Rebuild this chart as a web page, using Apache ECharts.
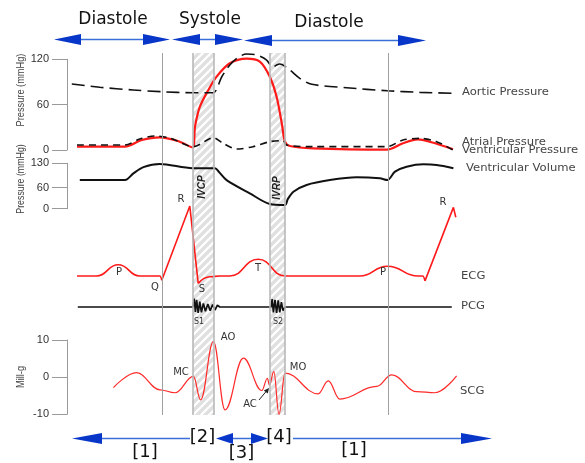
<!DOCTYPE html>
<html>
<head>
<meta charset="utf-8">
<script src="https://cdn.jsdelivr.net/npm/echarts@6/dist/echarts.min.js"></script>
<style>html,body{margin:0;padding:0;background:#fff}#main{width:585px;height:463px}</style>
</head>
<body>
<div id="main"></div>
<script>
// time in ms across the cycle, pressures in mmHg, volume in ml
var eventTimes = [237.5, 802.5];
var bandEdges = [315, 367.5, 507.5, 545];
var bandTimes = [[315, 367.5], [507.5, 545]];

var pressureTicks = [0, 60, 120];
var volumeTicks = [0, 60, 130];
var scgTicks = [-10, 0, 10];

var aorticPressure = [[12,87.3],[82,83],[165,79.4],[237,77.1],[315,75.8],[365,75.8],[387,96.9],[407,112.4],[428,122.6],[449,127],[474,125.7],[499,119],[514,109.4],[524,112.4],[532,113.8],[557,105.8],[582,94.8],[612,86.9],[699,82.4],[801,78.4],[882,76.3],[966,75]];
var atrialPressure = [[25,6.6],[145,6.6],[182,14.5],[220,18.5],[257,15.9],[316,4.4],[366,16.3],[390,8.9],[424,1.3],[465,4.4],[507,11],[540,12.3],[549,6.6],[615,4.4],[800,4.4],[840,13.2],[882,15.4],[924,11],[965,0]];
var ventricularPressure = [[25,4.4],[145,4.4],[187,13.2],[232,16.8],[277,11.9],[314,3.5],[320,30.8],[332,57],[353,79],[374,97],[407,114.7],[449,121],[482,117],[507,97],[524,70.5],[537,35],[545,11],[557,5.3],[615,2.2],[800,0.5],[840,9],[877,14],[922,8.6],[965,1]];
var ventricularVolume = [[32,82],[145,82],[166,101],[191,119],[232,128],[314,116],[370,116],[380,105],[399,82],[457,44],[507,13.5],[545,10.6],[552,27.5],[566,48.7],[599,68],[657,82],[724,90],[782,87],[801,82],[820,106],[849,120],[891,127],[924,125],[966,116]];

// ECG in mV, smooth waves and straight QRS parts
var ecgWaveA = [[25,0],[74,0],[128,0.16],[182,0],[232,0],[237,-0.06]];
var ecgQrs1 = [[237,-0.06],[307,1.0],[328,-0.105]];
var ecgWaveB = [[328,-0.105],[357,-0.01],[382,0],[407,0],[478,0.24],[545,0],[732,0],[801,0.14],[878,0],[889,0],[895,-0.07]];
var ecgQrs2 = [[895,-0.07],[966,0.98],[972,0.84]];

var pcgTrace = [[27,0],[315,0],[318,1.4],[321,-0.8],[324,1.2],[328,-1.0],[332,0.9],[336,-0.9],[341,0.6],[346,-0.7],[352,0.5],[358,-0.6],[364,0.4],[370,-0.5],[376,0.3],[382,0],[510,0],[513,1.3],[516,-0.9],[520,1.2],[524,-1.0],[528,1.1],[532,-0.9],[536,0.8],[540,-0.6],[545,0],[962,0]];

var scgTrace = [[116,-2.8],[174,1.2],[232,-3.4],[270,-4.2],[316,0.2],[334,-6.1],[366,9.6],[395,-8.8],[441,5.1],[487,-3.6],[501,-0.3],[506,-2.1],[517,1.5],[530,-10],[545,1.1],[628,-4.5],[653,-1],[682,-5.9],[774,-2.5],[812,0.6],[874,-3.9],[920,-4.2],[974,0.35]];

var chart = echarts.init(document.getElementById('main'));

function hatch() {
  var c = document.createElement('canvas');
  c.width = 8; c.height = 8;
  var g = c.getContext('2d');
  g.fillStyle = '#e0e0e0';
  g.fillRect(0, 0, 8, 8);
  g.strokeStyle = '#ffffff';
  g.lineWidth = 2.2;
  g.beginPath();
  g.moveTo(-4, 4); g.lineTo(4, -4);
  g.moveTo(-1, 9); g.lineTo(9, -1);
  g.moveTo(4, 12); g.lineTo(12, 4);
  g.stroke();
  return c;
}

function yAx(grid, min, max, ticks) {
  return {
    type: 'value', gridIndex: grid, min: min, max: max,
    axisLine: {show: true, lineStyle: {color: '#9a9a9a', width: 1}},
    axisTick: {show: true, length: 15, lineStyle: {color: '#9a9a9a'}, customValues: ticks},
    axisLabel: {show: true, margin: 18, color: '#333', fontSize: 11, fontFamily: 'Liberation Sans', customValues: ticks},
    splitLine: {show: false}
  };
}
function hiddenY(grid, min, max) {
  return {type: 'value', gridIndex: grid, min: min, max: max, show: false};
}
function line(name, grid, data, color, width, dash, smooth, mono) {
  return {
    name: name, type: 'line', xAxisIndex: grid, yAxisIndex: grid, data: data,
    symbol: 'none', clip: false, smooth: smooth, smoothMonotone: mono || null, z: 3,
    lineStyle: {color: color, width: width, type: dash || 'solid'}
  };
}

function label(text, x, y, font, fill, align, rot, sx) {
  return {
    type: 'text', x: x, y: y, rotation: rot || 0, scaleX: sx || 1, z: 10,
    style: {text: text, font: font, fill: fill || '#333',
      textAlign: align || 'center', textVerticalAlign: 'middle',
      align: align || 'center', verticalAlign: 'middle'}
  };
}
function arrow(x1, x2, y, head, left, right) {
  var els = [];
  var a = left ? x1 + head - 2 : x1, b = right ? x2 - head + 2 : x2;
  els.push({type: 'line', z: 10, shape: {x1: a, y1: y, x2: b, y2: y}, style: {stroke: '#3a6fd8', lineWidth: 1.5}});
  if (left) els.push({type: 'polygon', z: 10, shape: {points: [[x1, y], [x1 + head, y - 5.5], [x1 + head, y + 5.5]]}, style: {fill: '#0836c8'}});
  if (right) els.push({type: 'polygon', z: 10, shape: {points: [[x2, y], [x2 - head, y - 5.5], [x2 - head, y + 5.5]]}, style: {fill: '#0836c8'}});
  return els;
}

var titleFont = '17px "DejaVu Sans"';
var bracketFont = '18px "DejaVu Sans"';
var sideFont = '10px "DejaVu Sans"';
var sideScale = 1.16;
var waveFont = '10px "DejaVu Sans"';
var axisNameFont = '11px "Liberation Sans"';

var graphics = [].concat(
  arrow(54, 170, 39.5, 27, true, true),
  arrow(172, 243, 39.5, 28, true, true),
  arrow(244, 426, 40.5, 28, true, true),
  arrow(72, 190, 438.5, 30, true, false),
  arrow(216, 268, 438.5, 17, true, true),
  arrow(293, 492, 438.5, 31, false, true),
  [
    label('Diastole', 113, 20, titleFont, '#111'),
    label('Systole', 210, 20, titleFont, '#111'),
    label('Diastole', 329, 23, titleFont, '#111'),
    label('[1]', 145, 452, bracketFont, '#111'),
    label('[2]', 202.5, 437, bracketFont, '#111'),
    label('[3]', 241.5, 453, bracketFont, '#111'),
    label('[4]', 279, 437, bracketFont, '#111'),
    label('[1]', 354, 450, bracketFont, '#111'),
    label('Aortic Pressure', 462, 92, sideFont, '#444', 'left', 0, sideScale),
    label('Atrial Pressure', 462, 142, sideFont, '#444', 'left', 0, sideScale),
    label('Ventricular Pressure', 462, 150, sideFont, '#444', 'left', 0, sideScale),
    label('Ventricular Volume', 466, 168, sideFont, '#444', 'left', 0, sideScale),
    label('ECG', 461, 276, sideFont, '#444', 'left', 0, sideScale),
    label('PCG', 461, 306, sideFont, '#444', 'left', 0, sideScale),
    label('SCG', 460, 391, sideFont, '#444', 'left', 0, sideScale),
    label('R', 181, 199, waveFont), label('P', 119, 272, waveFont),
    label('Q', 155, 287, waveFont), label('S', 202, 289, waveFont),
    label('T', 258, 268, waveFont), label('P', 383, 272, waveFont),
    label('R', 443, 202, waveFont),
    label('S1', 199, 322, '8px "DejaVu Sans"'), label('S2', 278, 322, '8px "DejaVu Sans"'),
    label('MC', 181, 372, waveFont), label('AO', 228, 337, waveFont),
    label('AC', 250, 404, waveFont), label('MO', 298, 367, waveFont),
    label('IVCP', 202, 187, 'italic bold 10px "Liberation Sans"', '#222', 'center', Math.PI / 2),
    label('IVRP', 277.5, 188, 'italic bold 10px "Liberation Sans"', '#222', 'center', Math.PI / 2),
    label('Pressure (mmHg)', 21, 90, axisNameFont, '#444', 'center', Math.PI / 2, 0.84),
    label('Pressure (mmHg)', 21, 179, axisNameFont, '#444', 'center', Math.PI / 2, 0.8),
    label('Mill-g', 21, 377, axisNameFont, '#444', 'center', Math.PI / 2, 0.84),
    {type: 'line', z: 10, shape: {x1: 259, y1: 400, x2: 266.5, y2: 391}, style: {stroke: '#222', lineWidth: 1}},
    {type: 'polygon', z: 10, shape: {points: [[269, 388], [267.8, 393.6], [263.8, 390.4]]}, style: {fill: '#222'}}
  ]
);

var grids = [
  {left: 67, width: 400, top: 53, height: 362},
  {left: 67, width: 400, top: 59.3, height: 90.7},
  {left: 67, width: 400, top: 163.3, height: 45.4},
  {left: 67, width: 400, top: 206, height: 105},
  {left: 67, width: 400, top: 298, height: 18},
  {left: 67, width: 400, top: 340, height: 74.3}
];

var option = {
  animation: false,
  backgroundColor: '#fff',
  grid: grids,
  xAxis: grids.map(function (g, i) { return {type: 'value', gridIndex: i, min: 0, max: 1000, show: false}; }),
  yAxis: [
    hiddenY(0, 0, 1),
    yAx(1, 0, 120, pressureTicks),
    yAx(2, 0, 130, volumeTicks),
    hiddenY(3, -0.5, 1),
    hiddenY(4, -1.5, 1.5),
    yAx(5, -10, 10, scgTicks)
  ],
  graphic: graphics,
  series: [
    {
      type: 'line', xAxisIndex: 0, yAxisIndex: 0, data: [], z: 1, silent: true,
      markArea: {
        silent: true,
        itemStyle: {color: {image: hatch(), repeat: 'repeat'}},
        data: bandTimes.map(function (b) { return [{xAxis: b[0]}, {xAxis: b[1]}]; })
      },
      markLine: {
        silent: true, symbol: ['none', 'none'], label: {show: false},
        data: eventTimes.map(function (t) { return {xAxis: t, lineStyle: {color: '#a0a0a0', width: 1, type: 'solid'}}; })
          .concat(bandEdges.map(function (t) { return {xAxis: t, lineStyle: {color: '#b8b8b8', width: 1.6, type: 'solid'}}; }))
      }
    },
    line('Ventricular Pressure', 1, ventricularPressure, '#ff1a1a', 2.2, null, 0.3),
    line('Aortic Pressure', 1, aorticPressure, '#111', 1.6, [13, 6], 0.3),
    line('Atrial Pressure', 1, atrialPressure, '#111', 1.6, [7, 5], 0.3),
    line('Ventricular Volume', 2, ventricularVolume, '#111', 2, null, 0.3),
    line('ECG', 3, ecgWaveA, '#ff1a1a', 1.6, null, 0.5, 'x'),
    line('ECG', 3, ecgQrs1, '#ff1a1a', 1.6, null, false),
    line('ECG', 3, ecgWaveB, '#ff1a1a', 1.6, null, 0.5, 'x'),
    line('ECG', 3, ecgQrs2, '#ff1a1a', 1.6, null, false),
    line('PCG', 4, pcgTrace, '#111', 1.7, null, false),
    line('SCG', 5, scgTrace, '#ff2a2a', 1.2, null, 0.4, 'x')
  ]
};

chart.setOption(option);
</script>
</body>
</html>
